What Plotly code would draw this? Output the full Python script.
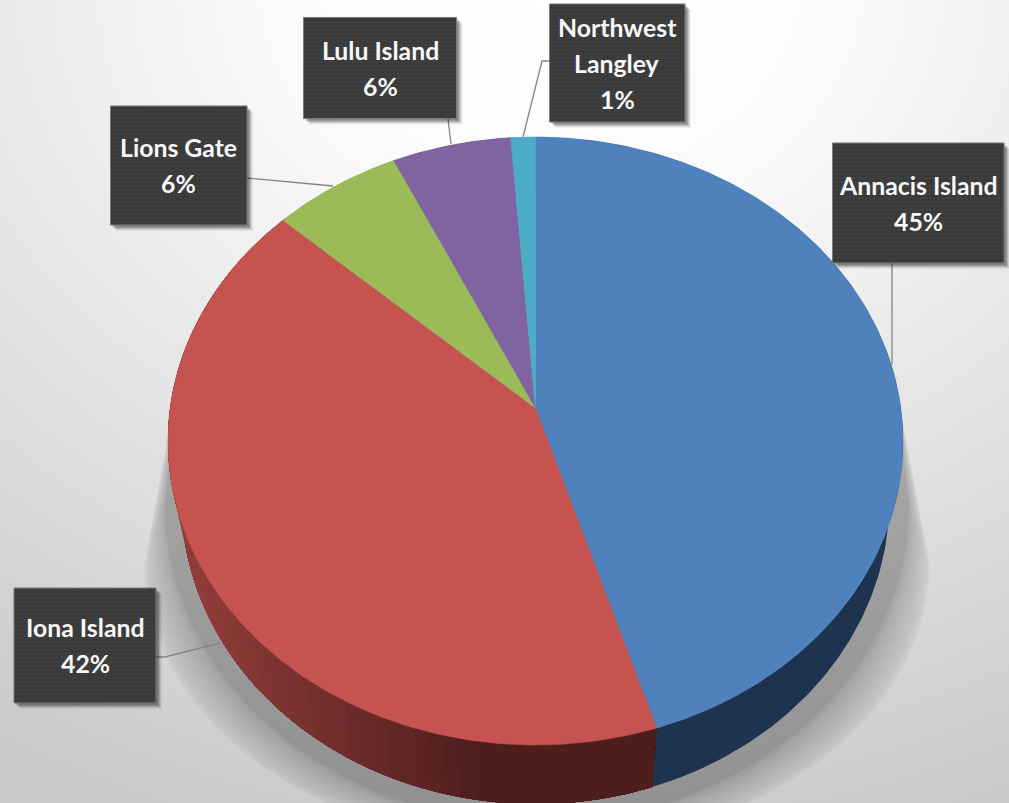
import numpy as np
import plotly.graph_objects as go

# Wastewater plant shares, clockwise from twelve o'clock
plants = ["Annacis Island", "Iona Island", "Lions Gate", "Lulu Island", "Northwest Langley"]
shares = [45.2, 41.5, 6.3, 5.8, 1.2]
label_lines = [["Annacis Island"], ["Iona Island"], ["Lions Gate"], ["Lulu Island"], ["Northwest", "Langley"]]
top_colors = ["#4f81bd", "#c55350", "#9bbb59", "#8064a2", "#4bacc6"]
wall_colors = ["#1e334f", "#7a2f2d", "#5c7035", "#4c3c61", "#2d6776"]

W, H = 1009, 803
# Tilted-disc projection of the pie, in page pixels
CX, TILT = 535.5, 0.1086
TOP_Y, TOP_RX, TOP_RY = 408.0, 365.3, 300.4
BASE_Y, BASE_RX, BASE_RY = 467.0, 351.9, 300.4

# Callout boxes: x0, x1, y0, y1 and the leader polyline for each plant
boxes = [(832.5, 1004, 143, 263), (14, 156, 588, 703), (110.5, 247, 106, 225),
         (303.5, 456.5, 17.5, 118.5), (549.5, 685, 4, 122)]
leaders = [([892, 892], [263, 365]), ([156, 165, 220], [657, 657, 643]),
           ([247, 333], [178, 186]), ([448, 451], [119, 144]), ([549, 542, 523], [61, 61, 137])]


def project(theta, y0, rx, ry):
    u, v = np.sin(theta), np.cos(theta)
    d = 1 + TILT * v
    return CX + rx * u / d, y0 - ry * v / d


def mix(a, b, t):
    ca = [int(a[i:i + 2], 16) for i in (1, 3, 5)]
    cb = [int(b[i:i + 2], 16) for i in (1, 3, 5)]
    return "#" + "".join(f"{round(p + (q - p) * t):02x}" for p, q in zip(ca, cb))


fig = go.Figure()

# Soft page backdrop
gx = np.linspace(0, W, 41)
gy = np.linspace(0, H, 33)
XX, YY = np.meshgrid(gx, gy)
dist = np.sqrt(((XX - 560) / 1000) ** 2 + ((YY + 20) / 820) ** 2)
fig.add_trace(go.Heatmap(x=gx, y=gy, z=np.clip(dist, 0, 1.1), zmin=0, zmax=1.1, zsmooth="best",
                         colorscale=[[0, "#ffffff"], [0.25, "#fbfbfb"], [1, "#c8c8c8"]],
                         showscale=False, hoverinfo="skip"))

# Drop shadow under the disc, built from stacked translucent outlines
phi = np.linspace(0, np.pi, 90)
layers = 30
for k in range(layers):
    t = k / (layers - 1)
    t = t * t * (3 - 2 * t)
    rx = 393 - 21 * t
    ry = 283 + 35 * t
    cy = 565 - 60 * t
    sx = 537 + rx * np.cos(phi)
    sy = cy + ry * np.sin(phi)
    sx = np.concatenate([[896], sx, [177]])
    sy = np.concatenate([[385], sy, [385]])
    fig.add_trace(go.Scatter(x=sx, y=sy, mode="lines", fill="toself", line=dict(width=0),
                             fillcolor="rgba(0,0,0,0.0072)", hoverinfo="skip", showlegend=False))

# Disc walls and top faces, both swept from the shares
fractions = np.cumsum([0] + shares) / sum(shares)
edges = 2 * np.pi * fractions
for i, name in enumerate(plants):
    a0, a1 = edges[i], edges[i + 1]
    if name == "Iona Island":
        # Shaded wall: each band runs to the far end so later bands paint over it without seams
        steps = np.linspace(a1, a0, 70)
        for s0 in steps[:-1]:
            th = np.linspace(s0, a0, 120)
            tx, ty = project(th, TOP_Y, TOP_RX, TOP_RY)
            bx, by = project(th[::-1], BASE_Y, BASE_RX, BASE_RY)
            pos = min(1, max(0, (tx[0] - 190) / 280))
            col = mix("#903c39", "#4e1e1d", pos)
            fig.add_trace(go.Scatter(x=np.r_[tx, bx], y=np.r_[ty, by], mode="lines", fill="toself",
                                     line=dict(width=0), fillcolor=col,
                                     hoverinfo="skip", showlegend=False))
    else:
        th = np.linspace(a0, a1, 200)
        tx, ty = project(th, TOP_Y, TOP_RX, TOP_RY)
        bx, by = project(th[::-1], BASE_Y, BASE_RX, BASE_RY)
        fig.add_trace(go.Scatter(x=np.r_[tx, bx], y=np.r_[ty, by], mode="lines", fill="toself",
                                 line=dict(width=0), fillcolor=wall_colors[i],
                                 hoverinfo="skip", showlegend=False))

for i, name in enumerate(plants):
    th = np.linspace(edges[i], edges[i + 1], 240)
    tx, ty = project(th, TOP_Y, TOP_RX, TOP_RY)
    fig.add_trace(go.Scatter(x=np.r_[CX, tx, CX], y=np.r_[TOP_Y, ty, TOP_Y], mode="lines", fill="toself",
                             line=dict(width=0.6, color=top_colors[i]), fillcolor=top_colors[i], name=name,
                             text=f"{name}: {shares[i]:.0f}%", hoverinfo="text", showlegend=False))

# Leader lines and callouts
for lx, ly in leaders:
    fig.add_trace(go.Scatter(x=lx, y=ly, mode="lines", line=dict(color="#858585", width=1.3),
                             hoverinfo="skip", showlegend=False))

annotations = []
for i, (x0, x1, y0, y1) in enumerate(boxes):
    for off, alpha in ((6, 0.05), (5, 0.08), (4, 0.12), (3, 0.15), (2, 0.15)):
        fig.add_trace(go.Scatter(x=[x0 + off, x1 + off, x1 + off, x0 + off, x0 + off],
                                 y=[y0 + off, y0 + off, y1 + off, y1 + off, y0 + off],
                                 mode="lines", fill="toself", line=dict(width=0),
                                 fillcolor=f"rgba(0,0,0,{alpha})", hoverinfo="skip", showlegend=False))
    fig.add_trace(go.Scatter(x=[x0, x1, x1, x0, x0], y=[y0, y0, y1, y1, y0], mode="lines", fill="toself",
                             line=dict(width=1, color="#777777"), fillcolor="#3a3a3a",
                             fillpattern=dict(shape=".", size=4, solidity=0.35, fgcolor="#454545", bgcolor="#3a3a3a"),
                             hoverinfo="skip", showlegend=False))
    lines = label_lines[i] + [f"{shares[i]:.0f}%"]
    mid = (y0 + y1) / 2
    for j, text in enumerate(lines):
        annotations.append(dict(x=(x0 + x1) / 2, y=mid + (j - (len(lines) - 1) / 2) * 36, text=text,
                                xref="x", yref="y", showarrow=False, xanchor="center", yanchor="middle",
                                font=dict(family="Lato", size=24.8, color="#f7f7f7", weight=700)))

fig.update_layout(
    width=W, height=H, margin=dict(l=0, r=0, t=0, b=0), showlegend=False,
    paper_bgcolor="#eeeeee", plot_bgcolor="#eeeeee",
    xaxis=dict(range=[0, W], visible=False, fixedrange=True, constrain="domain"),
    yaxis=dict(range=[H, 0], visible=False, fixedrange=True),
    annotations=annotations,
)
fig.write_html("out.html", config={"displayModeBar": False})
